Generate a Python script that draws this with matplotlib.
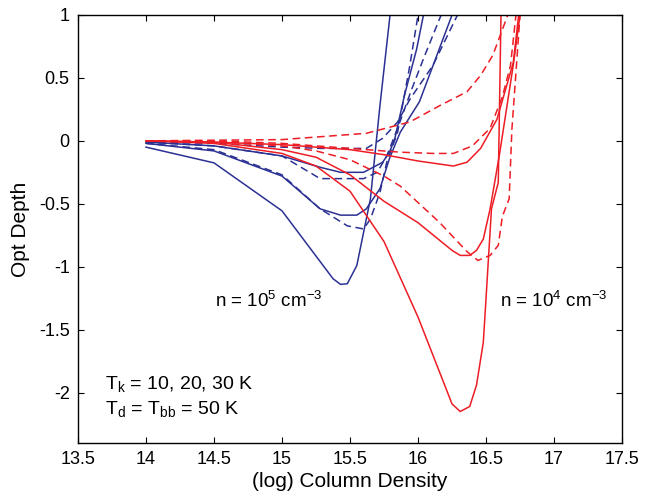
import numpy as np
import matplotlib
matplotlib.use("Agg")
import matplotlib.pyplot as plt
from matplotlib.ticker import FormatStrFormatter

plt.rcParams['font.family'] = ['Liberation Sans', 'DejaVu Sans']
plt.rcParams['mathtext.fontset'] = 'custom'
plt.rcParams['mathtext.rm'] = 'Liberation Sans'
plt.rcParams['mathtext.it'] = 'Liberation Sans'
plt.rcParams['axes.unicode_minus'] = False

BLUE = '#2b3193'
RED = '#ee1c24'

# n = 1e5 cm^-3, solid (three Tk values)
b_sol1_x = [14.0, 14.5, 15.0, 15.375, 15.43, 15.48, 15.55, 15.65, 15.72, 15.82]
b_sol1_y = [-0.05, -0.175, -0.556, -1.095, -1.14, -1.135, -0.99, -0.46, 0.28, 1.25]
b_sol2_x = [14.0, 14.5, 15.0, 15.28, 15.43, 15.55, 15.62, 15.72, 15.79, 15.87, 16.01, 16.25, 16.3]
b_sol2_y = [-0.02, -0.08, -0.28, -0.54, -0.59, -0.59, -0.54, -0.38, -0.14, 0.07, 0.31, 1.0, 1.15]
b_sol3_x = [14.0, 14.5, 15.0, 15.28, 15.43, 15.6, 15.74, 15.79, 15.83, 15.9, 15.99, 16.04, 16.08]
b_sol3_y = [-0.01, -0.04, -0.12, -0.21, -0.25, -0.25, -0.17, -0.09, 0.02, 0.36, 0.73, 1.0, 1.2]

# n = 1e5 cm^-3, dashed
b_das1_x = [14.0, 14.5, 15.0, 15.28, 15.48, 15.6, 15.65, 15.72, 15.77, 15.85, 15.94, 16.0, 16.04]
b_das1_y = [-0.02, -0.07, -0.27, -0.54, -0.675, -0.70, -0.62, -0.41, -0.17, 0.07, 0.6, 1.0, 1.25]
b_das2_x = [14.0, 14.5, 15.0, 15.28, 15.6, 15.7, 15.77, 15.85, 15.95, 16.05, 16.17, 16.22]
b_das2_y = [-0.01, -0.04, -0.12, -0.30, -0.30, -0.25, -0.12, 0.1, 0.4, 0.68, 1.0, 1.15]
b_das3_x = [14.0, 14.5, 15.0, 15.3, 15.62, 15.74, 15.85, 15.94, 16.11, 16.29, 16.35]
b_das3_y = [-0.01, -0.02, -0.05, -0.06, -0.06, 0.02, 0.15, 0.33, 0.6, 1.0, 1.15]

# n = 1e4 cm^-3, solid
r_sol1_x = [14.0, 14.5, 15.0, 15.25, 15.5, 15.75, 16.0, 16.25, 16.31, 16.38, 16.43, 16.48, 16.5, 16.54, 16.59, 16.61, 16.62]
r_sol1_y = [0.0, -0.02, -0.1, -0.2, -0.4, -0.8, -1.4, -2.09, -2.15, -2.11, -1.94, -1.6, -1.25, -0.54, -0.33, 1.0, 1.2]
r_sol2_x = [14.0, 14.5, 15.0, 15.25, 15.5, 15.75, 16.0, 16.25, 16.31, 16.38, 16.43, 16.48, 16.53, 16.6, 16.7, 16.75, 16.77]
r_sol2_y = [0.0, -0.01, -0.07, -0.13, -0.27, -0.48, -0.65, -0.87, -0.91, -0.91, -0.87, -0.78, -0.54, -0.1, 0.6, 1.0, 1.15]
r_sol3_x = [14.0, 14.5, 15.0, 15.5, 15.75, 16.0, 16.26, 16.36, 16.46, 16.58, 16.7, 16.74, 16.76]
r_sol3_y = [0.0, -0.01, -0.03, -0.07, -0.11, -0.16, -0.2, -0.17, -0.06, 0.17, 0.62, 1.0, 1.15]

# n = 1e4 cm^-3, dashed
r_das1_x = [14.0, 14.5, 15.0, 15.25, 15.5, 15.75, 15.87, 16.16, 16.36, 16.44, 16.53, 16.59, 16.62, 16.67, 16.69, 16.75, 16.77]
r_das1_y = [0.0, -0.005, -0.04, -0.08, -0.15, -0.28, -0.36, -0.65, -0.88, -0.95, -0.91, -0.83, -0.6, -0.46, 0.09, 1.0, 1.2]
r_das2_x = [14.0, 14.5, 15.0, 15.5, 15.87, 16.11, 16.26, 16.4, 16.53, 16.62, 16.68, 16.72, 16.74]
r_das2_y = [0.0, 0.0, -0.02, -0.06, -0.09, -0.1, -0.1, -0.04, 0.1, 0.35, 0.6, 1.0, 1.2]
r_das3_x = [14.0, 14.5, 15.0, 15.62, 15.94, 16.16, 16.36, 16.46, 16.55, 16.66, 16.68]
r_das3_y = [0.0, 0.005, 0.01, 0.06, 0.15, 0.28, 0.39, 0.52, 0.68, 1.0, 1.15]

fig = plt.figure(figsize=(6.5, 4.92), dpi=100)
ax = fig.add_axes([0.12, 0.0996, 0.837, 0.87])

lw = 1.1
for xs, ys in [(b_sol1_x, b_sol1_y), (b_sol2_x, b_sol2_y), (b_sol3_x, b_sol3_y)]:
    ax.plot(xs, ys, color=BLUE, lw=lw)
for xs, ys in [(b_das1_x, b_das1_y), (b_das2_x, b_das2_y), (b_das3_x, b_das3_y)]:
    ax.plot(xs, ys, color=BLUE, lw=lw, dashes=(5, 3))
for xs, ys in [(r_sol1_x, r_sol1_y), (r_sol2_x, r_sol2_y), (r_sol3_x, r_sol3_y)]:
    ax.plot(xs, ys, color=RED, lw=lw)
for xs, ys in [(r_das1_x, r_das1_y), (r_das2_x, r_das2_y), (r_das3_x, r_das3_y)]:
    ax.plot(xs, ys, color=RED, lw=lw, dashes=(5, 3))

ax.set_xlim(13.5, 17.5)
ax.set_ylim(-2.4, 1)
ax.set_xticks(np.arange(13.5, 17.51, 0.5))
ax.set_yticks(np.arange(-2, 1.01, 0.5))
ax.xaxis.set_major_formatter(FormatStrFormatter('%g'))
ax.yaxis.set_major_formatter(FormatStrFormatter('%g'))
ax.tick_params(direction='in', top=True, right=True, length=4, width=0.8,
               labelsize=13, pad=6)
for s in ax.spines.values():
    s.set_linewidth(1.0)

ax.set_xlabel('(log) Column Density', fontsize=15, labelpad=3)
ax.set_ylabel('Opt Depth', fontsize=15, labelpad=6)

ax.text(14.51, -1.27, r'n = 10$^5$ cm$^{-3}$', fontsize=13.5, va='center')
ax.text(16.6, -1.27, r'n = 10$^4$ cm$^{-3}$', fontsize=13.5, va='center')
ax.text(13.7, -1.93, r'T$_{\rm k}$ = 10, 20, 30 K', fontsize=14, va='center')
ax.text(13.7, -2.13, r'T$_{\rm d}$ = T$_{\rm bb}$ = 50 K', fontsize=14, va='center')

fig.savefig('out.png', dpi=100)
